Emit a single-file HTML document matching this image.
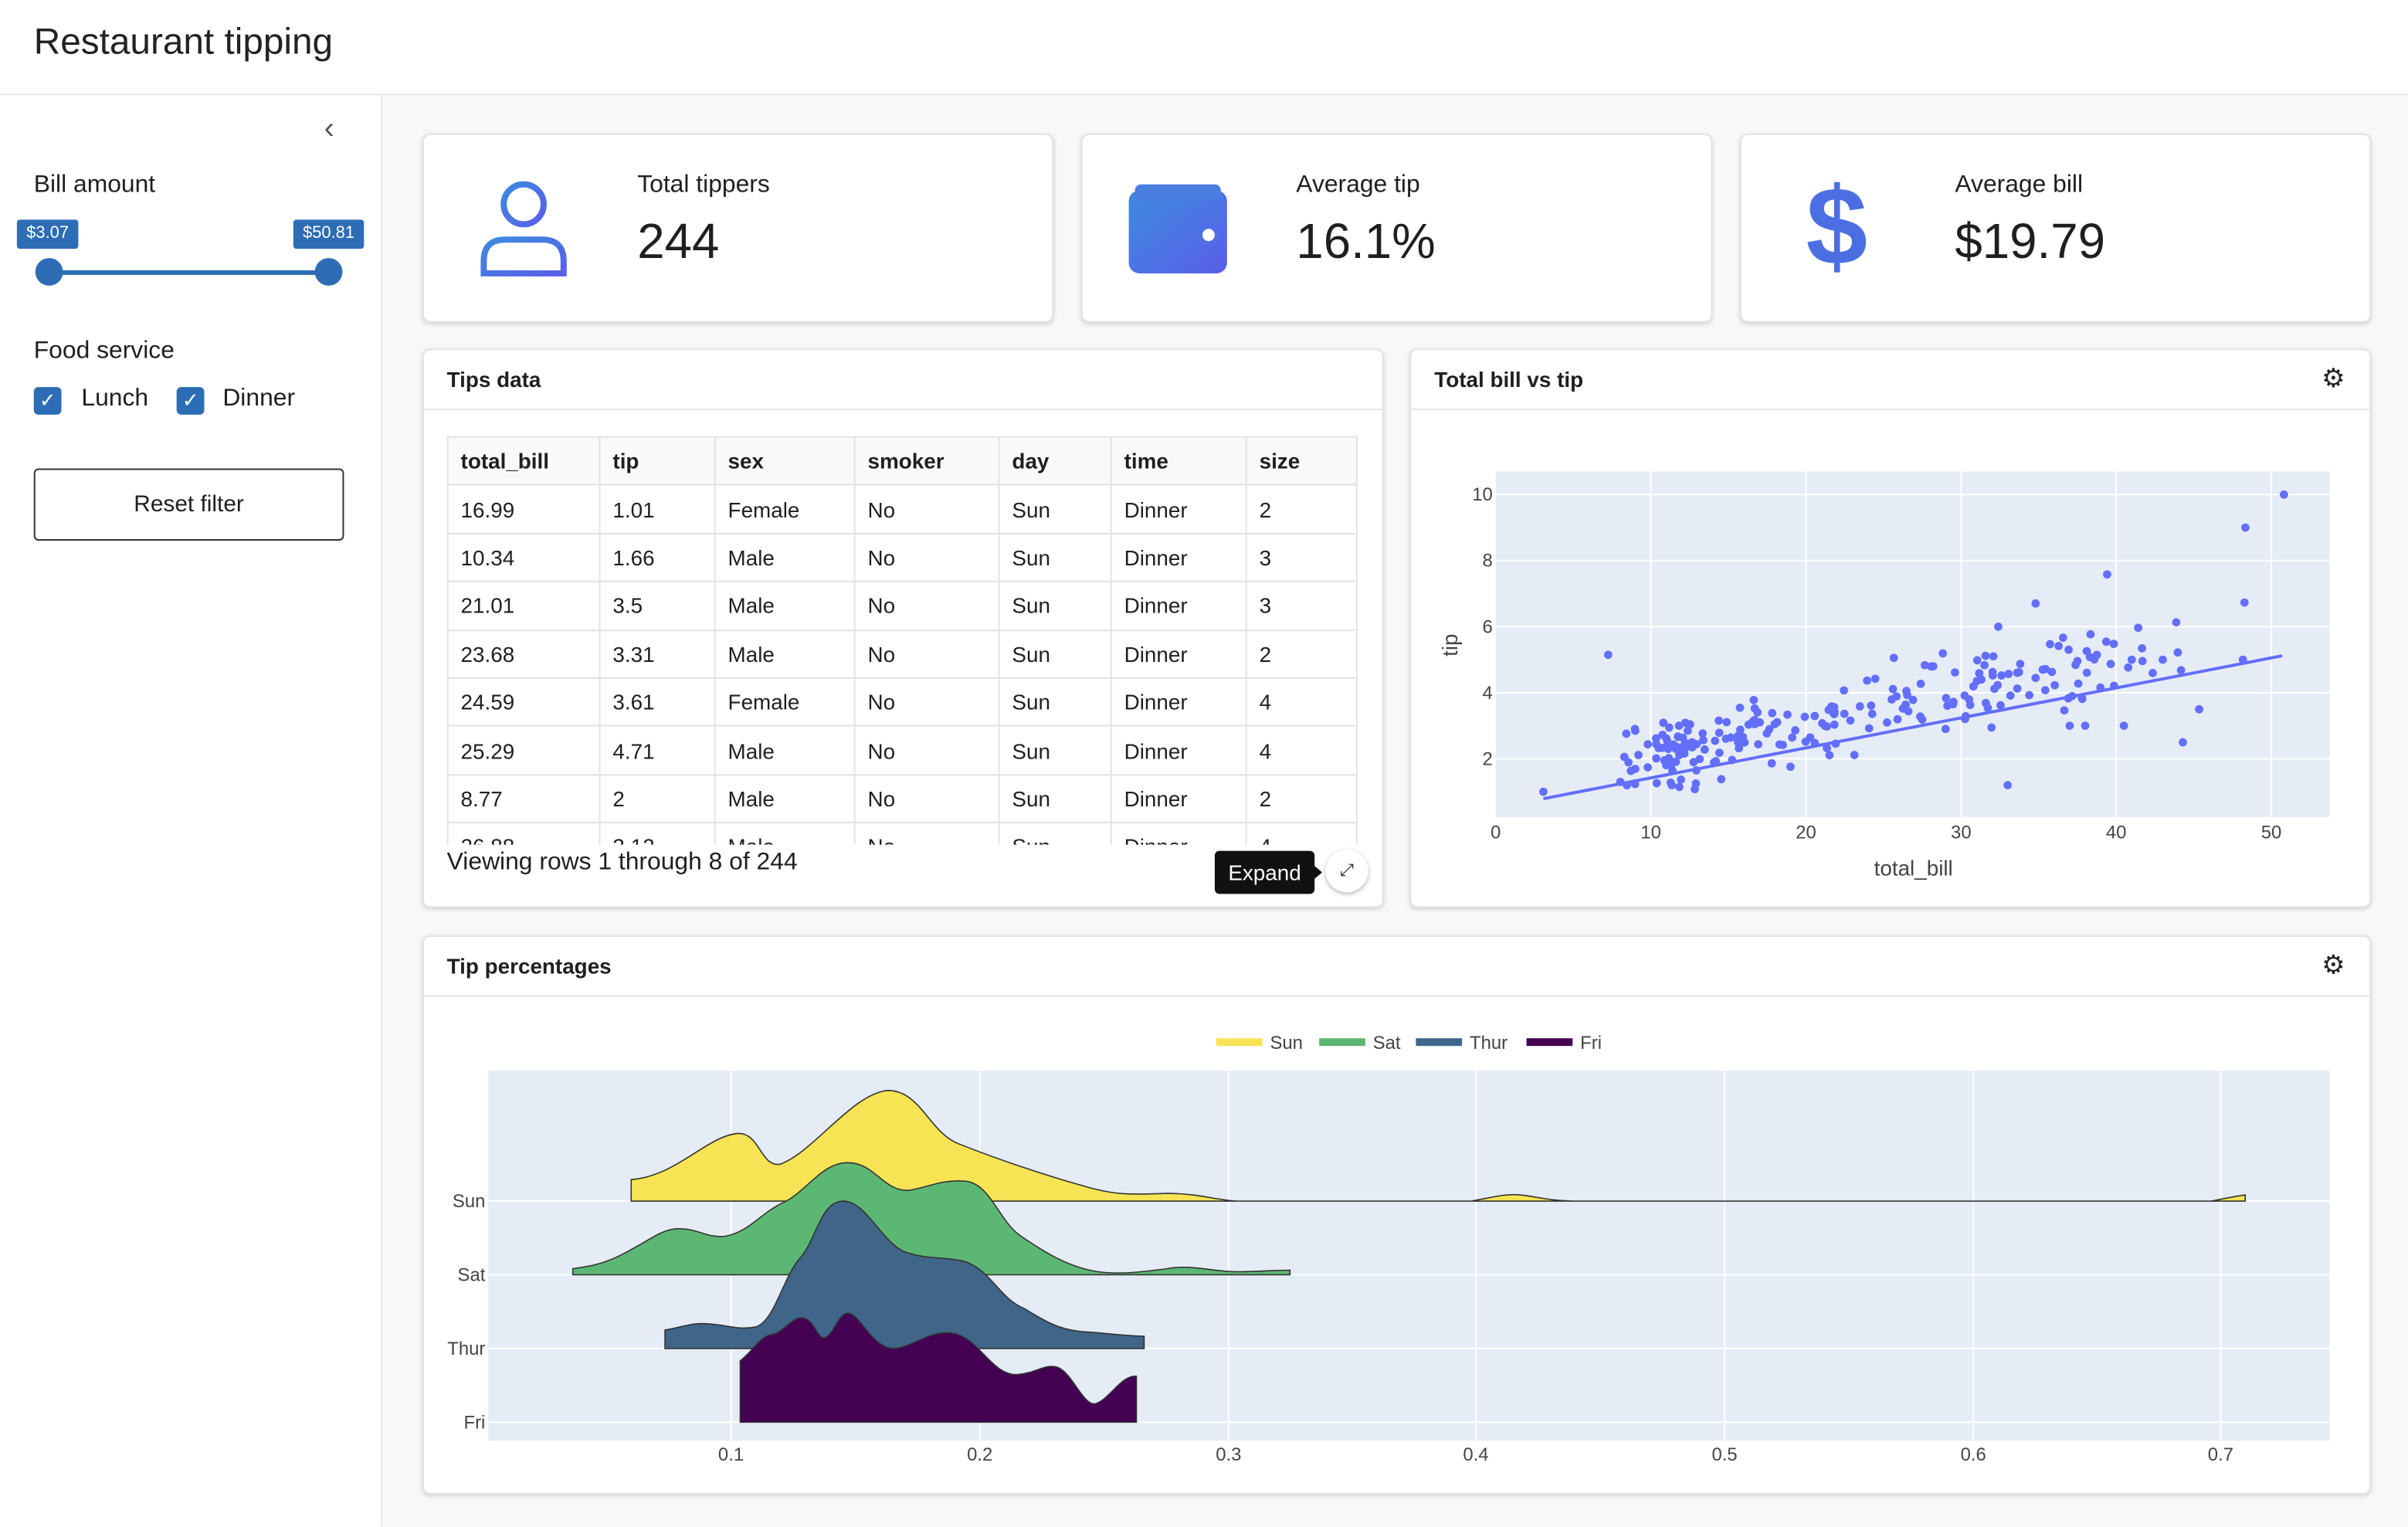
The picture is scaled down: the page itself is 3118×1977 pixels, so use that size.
<!DOCTYPE html>
<html><head><meta charset="utf-8"><style>
html,body{margin:0;padding:0;width:3118px;height:1976px;overflow:hidden;background:#fff;font-family:"Liberation Sans",sans-serif;color:#1d1f21}
#w{position:absolute;left:0;top:0;width:1568px;height:994px;transform:scale(1.98852);transform-origin:0 0;background:#f7f8f9}
.a{position:absolute}
.card{position:absolute;background:#fff;border:1px solid #e3e3e3;border-radius:5px;box-shadow:0 1px 3px rgba(0,0,0,.15)}
.hd{position:absolute;left:0;right:0;top:0;height:38px;border-bottom:1px solid #e5e5e5;font-weight:bold;font-size:14px;line-height:38px;padding-left:15px}
.gear{position:absolute;right:16px;top:0;font-size:17px;line-height:38px;color:#222}
table{border-collapse:collapse;font-size:14px}
td{border:1px solid #e2e2e2;padding:0 8px;height:30.4px;text-align:left}
.vt{position:absolute;font-size:16px}
.vv{position:absolute;font-size:32px}
.cb{position:absolute;width:18px;height:18px;background:#2c6db5;border-radius:3px;color:#fff;font-size:13px;line-height:18px;text-align:center}
</style></head><body><div id="w">
<div class="a" style="left:0;top:0;width:1568px;height:61px;background:#fff;border-bottom:1px solid #e5e5e5"></div>
<div class="a" style="left:22px;top:14px;font-size:24px;font-weight:300;color:#222">Restaurant tipping</div>
<div class="a" style="left:0;top:62px;width:248px;height:932px;background:#fff;border-right:1px solid #e5e5e5"></div>
<div class="a" style="left:211px;top:73px;font-size:20px;color:#555">‹</div>
<div class="a" style="left:22px;top:112px;font-size:16px">Bill amount</div>
<div class="a" style="left:11px;top:143px;width:40px;height:19px;background:#2c6db5;color:#fff;font-size:11px;line-height:19px;text-align:center;border-radius:2px">$3.07</div>
<div class="a" style="left:191px;top:143px;width:46px;height:19px;background:#2c6db5;color:#fff;font-size:11px;line-height:19px;text-align:center;border-radius:2px">$50.81</div>
<div class="a" style="left:32px;top:176px;width:182px;height:3px;background:#2c6db5"></div>
<div class="a" style="left:23px;top:168px;width:18px;height:18px;border-radius:50%;background:#2c6db5"></div>
<div class="a" style="left:205px;top:168px;width:18px;height:18px;border-radius:50%;background:#2c6db5"></div>
<div class="a" style="left:22px;top:220px;font-size:16px">Food service</div>
<div class="cb" style="left:22px;top:252px">✓</div><div class="a" style="left:53px;top:251px;font-size:16px">Lunch</div>
<div class="cb" style="left:115px;top:252px">✓</div><div class="a" style="left:145px;top:251px;font-size:16px">Dinner</div>
<div class="a" style="left:22px;top:305px;width:200px;height:45px;border:1px solid #333;border-radius:3px;font-size:15px;line-height:45px;text-align:center;background:#fff">Reset filter</div>

<div class="card" style="left:275px;top:87px;width:409px;height:121px">
<svg class="a" style="left:36px;top:28px" width="58" height="66" viewBox="0 0 58 66"><defs><linearGradient id="g" x1="0" y1="0" x2="1" y2="1"><stop offset="0" stop-color="#3d8be0"/><stop offset="1" stop-color="#5a5ee8"/></linearGradient></defs><circle cx="29" cy="17" r="13" fill="none" stroke="url(#g)" stroke-width="4"/><path d="M3 62 V54 Q3 40 17 40 H41 Q55 40 55 54 V62 Z" fill="none" stroke="url(#g)" stroke-width="4"/></svg>
<div class="vt" style="left:139px;top:24px">Total tippers</div><div class="vv" style="left:139px;top:51px">244</div></div>
<div class="card" style="left:704px;top:87px;width:409px;height:121px">
<svg class="a" style="left:30px;top:32px" width="66" height="58" viewBox="0 0 66 58"><defs><linearGradient id="g2" x1="0" y1="0" x2="1" y2="1"><stop offset="0" stop-color="#3d8be0"/><stop offset="1" stop-color="#5a5ee8"/></linearGradient></defs><rect x="0" y="4" width="64" height="54" rx="7" fill="url(#g2)"/><rect x="4" y="0" width="56" height="10" rx="4" fill="#4a7fe0"/><circle cx="52" cy="33" r="4" fill="#fff"/></svg>
<div class="vt" style="left:139px;top:24px">Average tip</div><div class="vv" style="left:139px;top:51px">16.1%</div></div>
<div class="card" style="left:1133px;top:87px;width:409px;height:121px">
<div class="a" style="left:42px;top:20px;font-size:72px;font-weight:bold;color:#4b6fe2;line-height:80px">$</div>
<div class="vt" style="left:139px;top:24px">Average bill</div><div class="vv" style="left:139px;top:51px">$19.79</div></div>

<div class="card" style="left:275px;top:227px;width:624px;height:362px">
<div class="hd">Tips data</div>
<div class="a" style="left:15px;top:56px;width:593px;height:266px;overflow:hidden">
<table style="width:593px">
<tr style="font-weight:bold;background:#fafafa"><td style="width:82px">total_bill</td><td style="width:58px">tip</td><td style="width:74px">sex</td><td style="width:77px">smoker</td><td style="width:56px">day</td><td style="width:71px">time</td><td>size</td></tr>
<tr><td>16.99</td><td>1.01</td><td>Female</td><td>No</td><td>Sun</td><td>Dinner</td><td>2</td></tr>
<tr><td>10.34</td><td>1.66</td><td>Male</td><td>No</td><td>Sun</td><td>Dinner</td><td>3</td></tr>
<tr><td>21.01</td><td>3.5</td><td>Male</td><td>No</td><td>Sun</td><td>Dinner</td><td>3</td></tr>
<tr><td>23.68</td><td>3.31</td><td>Male</td><td>No</td><td>Sun</td><td>Dinner</td><td>2</td></tr>
<tr><td>24.59</td><td>3.61</td><td>Female</td><td>No</td><td>Sun</td><td>Dinner</td><td>4</td></tr>
<tr><td>25.29</td><td>4.71</td><td>Male</td><td>No</td><td>Sun</td><td>Dinner</td><td>4</td></tr>
<tr><td>8.77</td><td>2</td><td>Male</td><td>No</td><td>Sun</td><td>Dinner</td><td>2</td></tr>
<tr><td>26.88</td><td>3.12</td><td>Male</td><td>No</td><td>Sun</td><td>Dinner</td><td>4</td></tr>
</table></div>
<div class="a" style="left:15px;top:325px;font-size:16px">Viewing rows 1 through 8 of 244</div>
<div class="a" style="left:515px;top:326px;width:65px;height:28px;background:#111;color:#fff;font-size:14px;line-height:28px;text-align:center;border-radius:3px">Expand</div>
<div class="a" style="left:579px;top:335px;width:0;height:0;border-top:5px solid transparent;border-bottom:5px solid transparent;border-left:6px solid #111"></div>
<div class="a" style="left:587px;top:325px;width:28px;height:28px;border-radius:50%;background:#fff;box-shadow:0 1px 3px rgba(0,0,0,.3);font-size:11px;line-height:28px;text-align:center">⤢</div>
</div>

<div class="card" style="left:918px;top:227px;width:624px;height:362px">
<div class="hd">Total bill vs tip</div><div class="gear">⚙</div></div>
<svg class="a" style="left:918px;top:227px" width="625" height="363" id="sc">
<g transform="translate(-918,-227)" font-size="12" fill="#444">
<rect x="974" y="307" width="543" height="225" fill="#e5ecf6"/>
<g stroke="#fff" stroke-width="1">
<line x1="1075" y1="307" x2="1075" y2="532"/><line x1="1176" y1="307" x2="1176" y2="532"/><line x1="1277" y1="307" x2="1277" y2="532"/><line x1="1378" y1="307" x2="1378" y2="532"/><line x1="1479" y1="307" x2="1479" y2="532"/>
<line x1="974" y1="494" x2="1517" y2="494"/><line x1="974" y1="451" x2="1517" y2="451"/><line x1="974" y1="408" x2="1517" y2="408"/><line x1="974" y1="365" x2="1517" y2="365"/><line x1="974" y1="322" x2="1517" y2="322"/></g>
<g text-anchor="middle"><text x="974" y="546">0</text><text x="1075" y="546">10</text><text x="1176" y="546">20</text><text x="1277" y="546">30</text><text x="1378" y="546">40</text><text x="1479" y="546">50</text></g>
<g text-anchor="end"><text x="972" y="498">2</text><text x="972" y="455">4</text><text x="972" y="412">6</text><text x="972" y="369">8</text><text x="972" y="326">10</text></g>
<text x="1246" y="570" text-anchor="middle" font-size="14">total_bill</text>
<text transform="translate(949,420) rotate(-90)" text-anchor="middle" font-size="14">tip</text>
<g id="pts" fill="#636efa"></g>
<line x1="1005" y1="520" x2="1486" y2="427" stroke="#636efa" stroke-width="2"/>
</g></svg>

<div class="card" style="left:275px;top:609px;width:1267px;height:362px">
<div class="hd">Tip percentages</div><div class="gear">⚙</div></div>
<svg class="a" style="left:0;top:0" width="1568" height="994" font-size="12" fill="#444">
<rect x="318" y="697" width="1199" height="241" fill="#e5ecf6"/>
<g stroke="#fff"><line x1="476" y1="697" x2="476" y2="938"/><line x1="638" y1="697" x2="638" y2="938"/><line x1="800" y1="697" x2="800" y2="938"/><line x1="961" y1="697" x2="961" y2="938"/><line x1="1123" y1="697" x2="1123" y2="938"/><line x1="1285" y1="697" x2="1285" y2="938"/><line x1="1446" y1="697" x2="1446" y2="938"/>
<line x1="318" y1="782" x2="1517" y2="782"/><line x1="318" y1="830" x2="1517" y2="830"/><line x1="318" y1="878" x2="1517" y2="878"/><line x1="318" y1="926" x2="1517" y2="926"/></g>
<g text-anchor="end"><text x="316" y="786">Sun</text><text x="316" y="834">Sat</text><text x="316" y="882">Thur</text><text x="316" y="930">Fri</text></g>
<g text-anchor="middle"><text x="476" y="951">0.1</text><text x="638" y="951">0.2</text><text x="800" y="951">0.3</text><text x="961" y="951">0.4</text><text x="1123" y="951">0.5</text><text x="1285" y="951">0.6</text><text x="1446" y="951">0.7</text></g>
<rect x="792" y="676" width="30" height="5" fill="#f7e454"/><text x="827" y="683">Sun</text>
<rect x="859" y="676" width="30" height="5" fill="#5db774"/><text x="894" y="683">Sat</text>
<rect x="922" y="676" width="30" height="5" fill="#3f6589"/><text x="957" y="683">Thur</text>
<rect x="994" y="676" width="30" height="5" fill="#440154"/><text x="1029" y="683">Fri</text>
<g stroke="#333" stroke-width="0.8">
<path fill="#f7e454" d="M411 782 L411 768 C440 766 460 740 480 738 C495 737 495 760 508 758 C530 750 555 712 578 710 C600 710 605 738 625 745 C650 755 680 765 705 772 C725 778 735 778 760 777 C780 777 790 781 805 782 L958 782 C970 780 980 777 990 778 C1000 779 1010 782 1025 782 L1440 782 C1450 780 1455 779 1462 778 L1462 782 Z"/>
<path fill="#5db774" d="M373 830 L373 826 C390 824 400 820 412 813 C425 806 432 800 442 800 C455 800 460 806 472 805 C488 802 495 790 510 783 C525 776 535 757 552 757 C570 757 575 776 592 775 C605 773 612 768 628 769 C645 770 650 795 665 805 C680 815 695 825 715 828 C730 830 745 828 760 826 C775 823 790 828 805 828 C820 828 830 827 840 827 L840 830 Z"/>
<path fill="#3f6589" d="M433 878 L433 866 C445 864 450 861 462 862 C475 863 480 866 492 864 C505 860 510 830 522 818 C532 805 535 782 549 782 C565 782 575 812 592 816 C605 820 612 818 627 821 C645 826 650 845 667 852 C680 860 690 866 705 867 C720 868 735 870 745 870 L745 878 Z"/>
<path fill="#440154" d="M482 926 L482 886 C490 880 495 870 502 869 C510 868 515 858 522 858 C530 858 532 872 537 871 C543 869 546 855 552 855 C560 855 568 878 582 878 C595 877 605 866 620 868 C637 870 645 895 662 895 C675 894 680 888 688 890 C698 893 705 915 713 914 C722 912 730 895 740 896 L740 926 Z"/>
</g></svg>
</div>
<script>
var s=12345;function r(){s=(s*1103515245+12345)%2147483648;return s/2147483648;}
function n(){return (r()+r()+r()-1.5)*1.1;}
var g=document.getElementById('pts'),h='';
function P(b,t){h+='<circle cx="'+(974+b*10.1).toFixed(1)+'" cy="'+(537-t*21.5).toFixed(1)+'" r="2.7"/>';}
for(var i=0;i<225;i++){var b=8+Math.pow(r(),1.6)*30+r()*4;if(r()<0.08)b=30+r()*15;var t=0.92+0.105*b+n();if(t<1)t=1+r()*0.3;P(b,t);}
[[50.81,10],[48.33,9],[48.27,6.73],[7.25,5.15],[39.42,7.58],[3.07,1],[44.3,2.5],[45.35,3.5],[48.17,5],[41,5],[34.8,6.7],[32.4,6],[29,2.9],[40.5,3],[38,3],[37,3],[43,5],[33,1.2]].forEach(function(p){P(p[0],p[1]);});
g.innerHTML=h;
</script>
</body></html>
